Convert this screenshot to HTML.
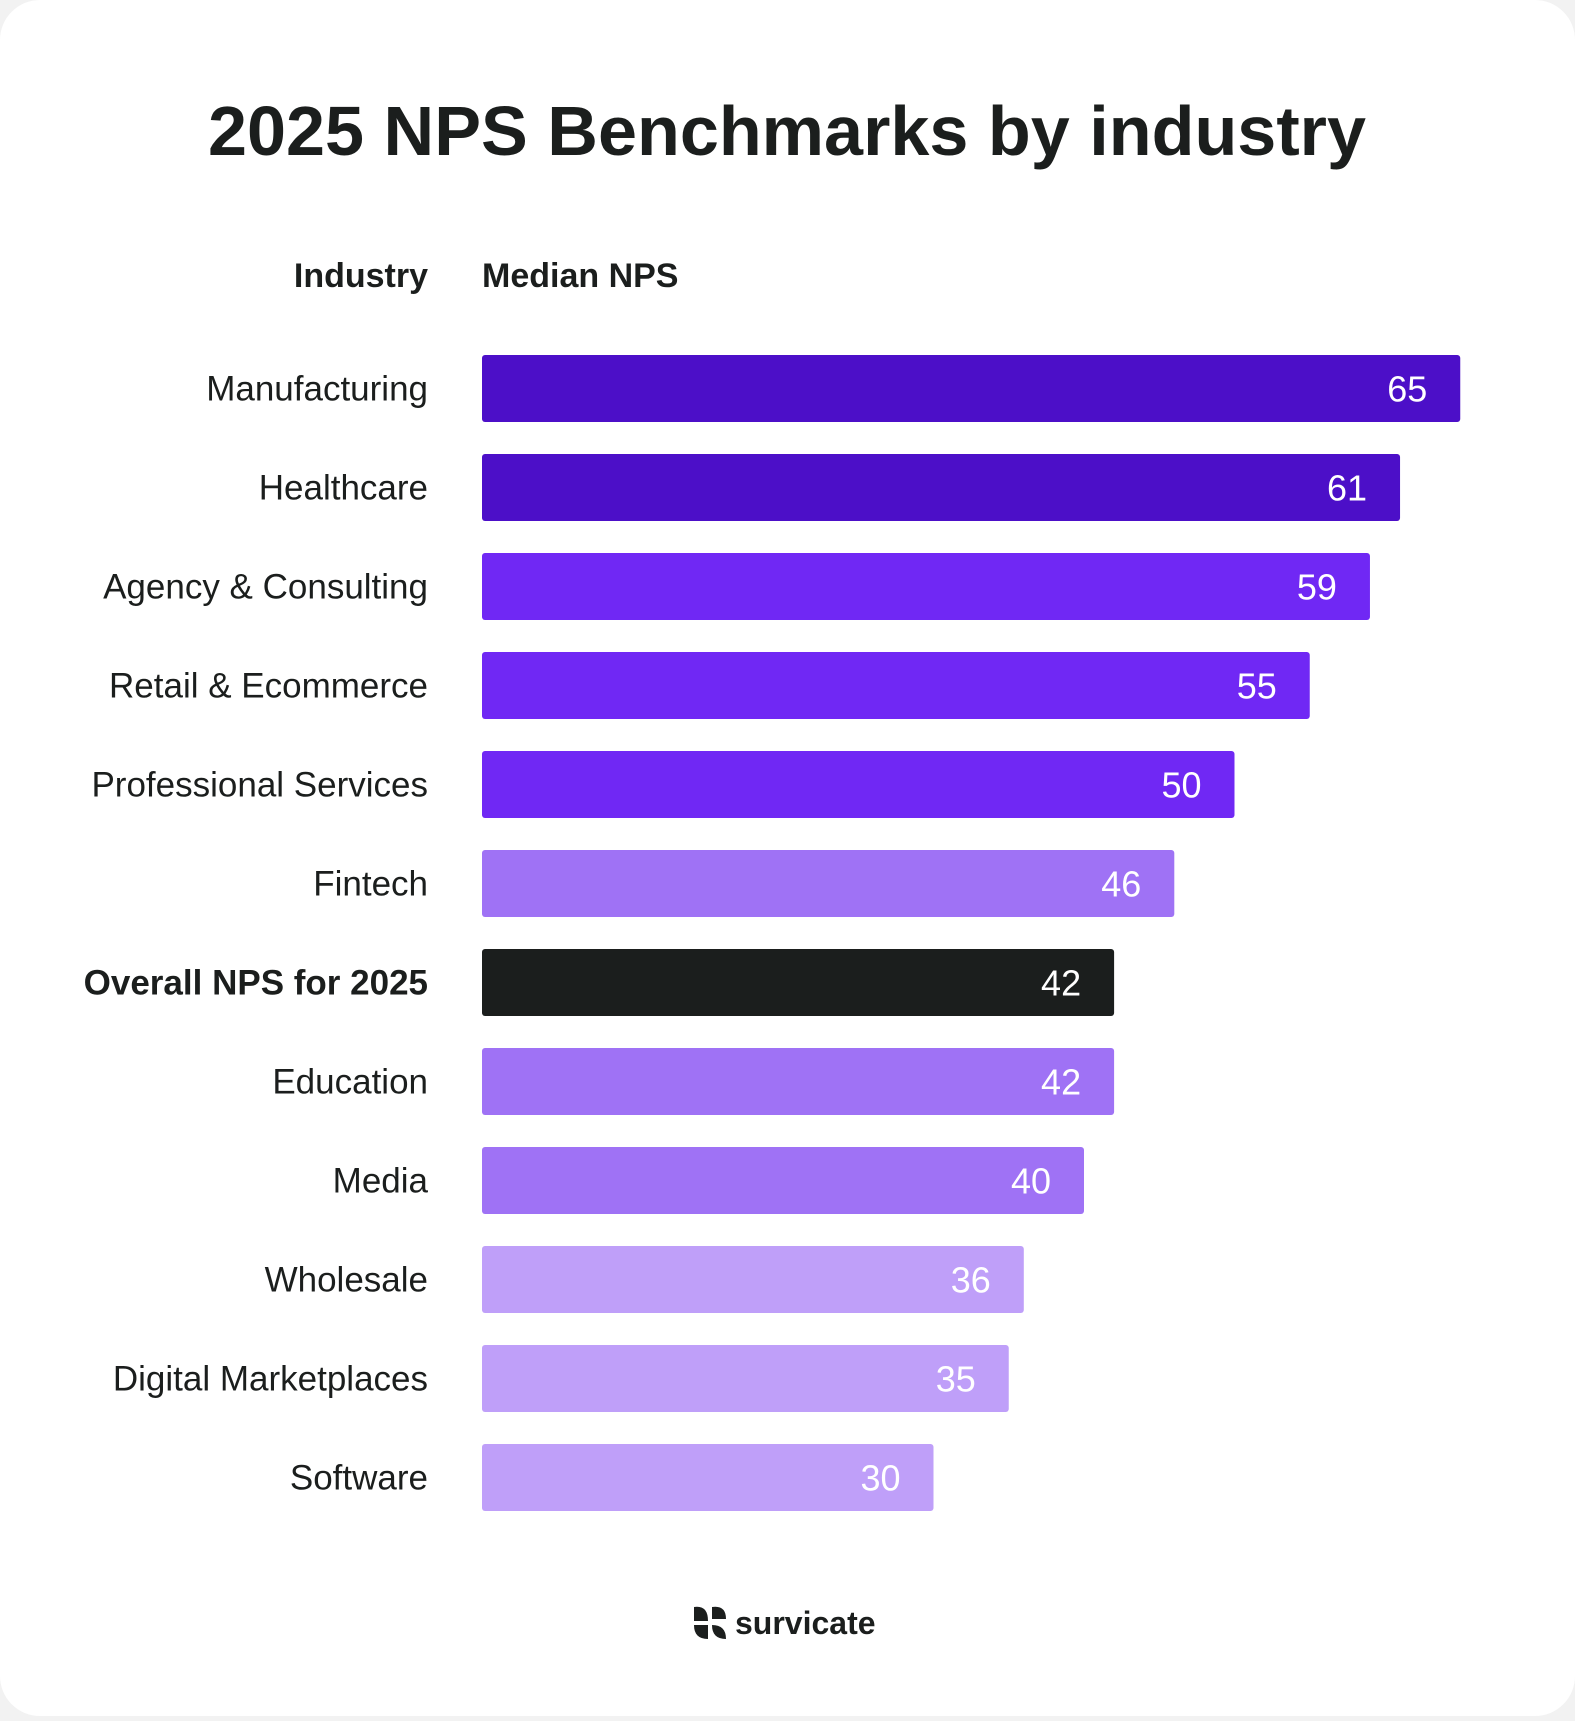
<!DOCTYPE html>
<html><head><meta charset="utf-8"><style>
html,body{margin:0;padding:0;background:#f2f2f2;}
#wrap{width:1575px;height:1716px;position:relative;}
svg text{font-family:"Liberation Sans",sans-serif;}
</style></head><body>
<div id="wrap">
<svg id="chart" width="1575" height="1716" viewBox="0 0 1575 1716" xmlns="http://www.w3.org/2000/svg">
<rect x="0" y="0" width="1575" height="1716" rx="40" fill="#ffffff"/>
<text x="787" y="155" text-anchor="middle" font-size="70" font-weight="bold" fill="#1b1e1d" textLength="1158" lengthAdjust="spacingAndGlyphs">2025 NPS Benchmarks by industry</text>
<text x="428" y="287" text-anchor="end" font-size="34" font-weight="bold" fill="#1b1e1d">Industry</text>
<text x="482" y="287" text-anchor="start" font-size="34" font-weight="bold" fill="#1b1e1d">Median NPS</text>
<g id="bars"></g>
<g transform="translate(692,1605)">
<path d="M2 2 Q16 0 16 16 L2 16 Z M20 2 Q34 0 34 14 L20 14 Z M2 20 L16 20 L16 34 Q2 34 2 20 Z M20 20 Q34 20 34 34 Q20 34 20 20 Z" fill="#1b1e1d"/>
</g>
<text x="735" y="1634" font-size="32" font-weight="bold" fill="#1b1e1d">survicate</text>
</svg>
</div>
<script>
const categories = ["Manufacturing","Healthcare","Agency & Consulting","Retail & Ecommerce","Professional Services","Fintech","Overall NPS for 2025","Education","Media","Wholesale","Digital Marketplaces","Software"];
const values = [65,61,59,55,50,46,42,42,40,36,35,30];
const tiers = [0,0,1,1,1,2,3,2,2,4,4,4];
const colors = ["#4c0fc8","#7028f4","#9f72f5","#1b1e1d","#bf9ff9"];
const NS = "http://www.w3.org/2000/svg";
const x0 = 482, pxPerUnit = 15.05, top0 = 355, step = 99, barH = 67;
function xScale(v){ return x0 + v * pxPerUnit; }
function yScale(i){ return top0 + i * step; }
const g = document.getElementById('bars');
categories.forEach((c,i)=>{
  const y = yScale(i);
  const r = document.createElementNS(NS,'rect');
  r.setAttribute('x', x0); r.setAttribute('y', y);
  r.setAttribute('width', xScale(values[i]) - x0); r.setAttribute('height', barH);
  r.setAttribute('rx', 3); r.setAttribute('fill', colors[tiers[i]]);
  
  
  g.appendChild(r);
  const l = document.createElementNS(NS,'text');
  l.setAttribute('x', 428); l.setAttribute('y', y + barH/2 + 12);
  l.setAttribute('text-anchor','end'); l.setAttribute('font-size', 35);
  l.setAttribute('fill','#1b1e1d');
  if (tiers[i] === 3) l.setAttribute('font-weight','bold');
  l.textContent = c;
  
  
  g.appendChild(l);
  const t = document.createElementNS(NS,'text');
  t.setAttribute('x', xScale(values[i]) - 33); t.setAttribute('y', y + barH/2 + 13);
  t.setAttribute('text-anchor','end'); t.setAttribute('font-size', 36);
  t.setAttribute('fill','#ffffff');
  t.textContent = values[i];
  
  
  g.appendChild(t);
});
</script>
</body></html>
